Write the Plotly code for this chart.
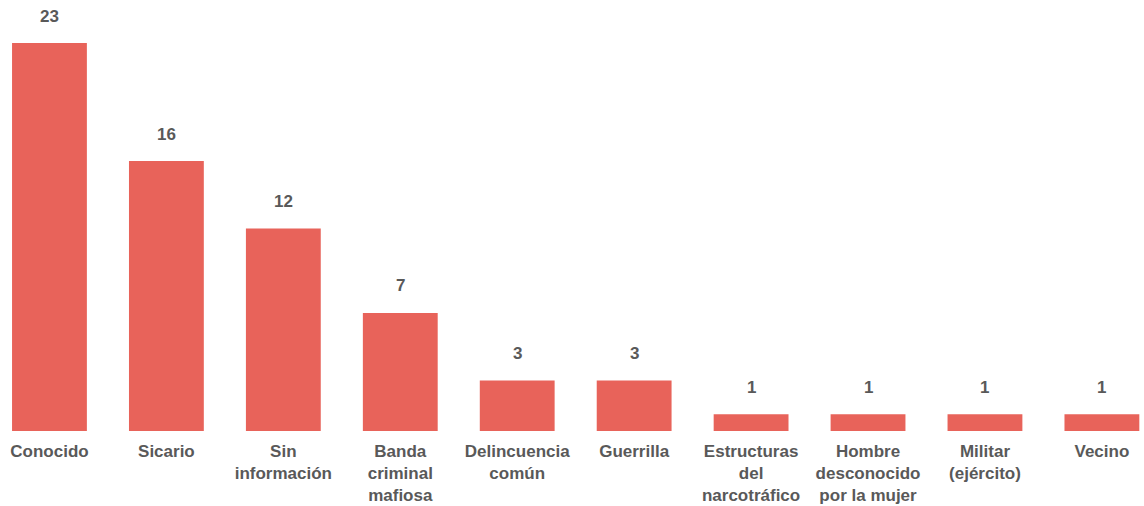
import plotly.graph_objects as go

categories = ["Conocido", "Sicario", "Sin<br>información", "Banda<br>criminal<br>mafiosa",
              "Delincuencia<br>común", "Guerrilla", "Estructuras<br>del<br>narcotráfico",
              "Hombre<br>desconocido<br>por la mujer", "Militar<br>(ejército)", "Vecino"]
values = [23, 16, 12, 7, 3, 3, 1, 1, 1, 1]

BAR = "#E8635A"
TXT = "#595959"
FONT = "Liberation Sans, Arial, sans-serif"

x = list(range(len(categories)))

fig = go.Figure()
fig.add_trace(go.Bar(x=x, y=values, marker=dict(color=BAR, line=dict(width=0)),
                     hoverinfo="skip"))

for xi, v in zip(x, values):
    fig.add_annotation(x=xi, y=v, text=str(v), showarrow=False, yanchor="middle",
                       yshift=27, font=dict(family=FONT, size=17, color=TXT, weight="bold"))

fig.update_layout(
    width=1144, height=506,
    margin=dict(l=0, r=0, t=0, b=75),
    plot_bgcolor="white", paper_bgcolor="white",
    bargap=0.36, showlegend=False,
    xaxis=dict(range=[-0.423, 9.36], tickmode="array", tickvals=x, ticktext=categories,
               showgrid=False, zeroline=False, showline=False, ticks="",
               tickfont=dict(family=FONT, size=17, color=TXT, weight="bold"),
               ticklabelstandoff=8),
    yaxis=dict(range=[0, 25.55], visible=False, showgrid=False, zeroline=False),
)

fig.write_html("out.html", config={"displayModeBar": False},
               post_script="document.body.style.margin='0px';document.body.style.overflow='hidden';")
